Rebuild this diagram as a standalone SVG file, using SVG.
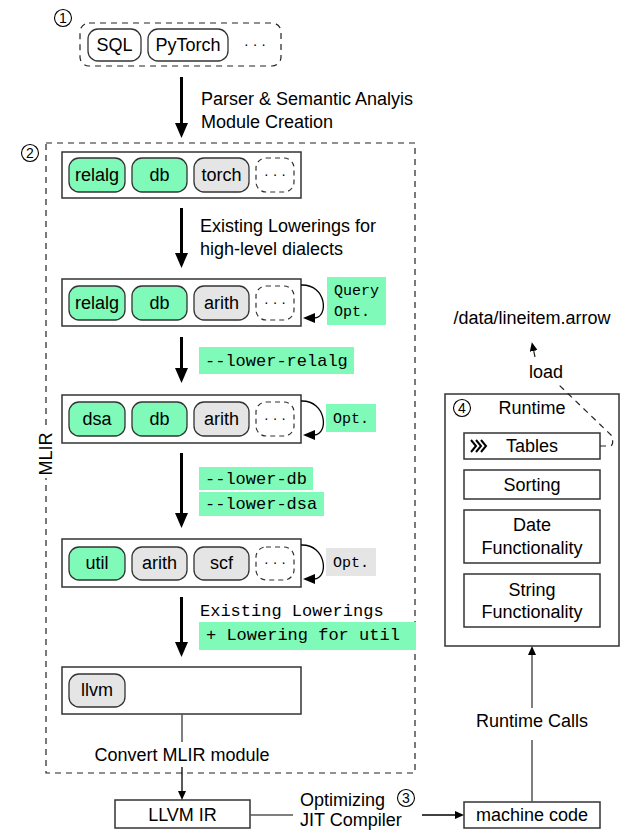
<svg xmlns="http://www.w3.org/2000/svg" width="626" height="831" viewBox="0 0 626 831">
<style>
text{font-family:"Liberation Sans","DejaVu Sans",sans-serif;font-size:18px;fill:#000}
.mono{font-family:"Liberation Mono","DejaVu Sans Mono",monospace;font-size:17px}
.mono15{font-family:"Liberation Mono","DejaVu Sans Mono",monospace;font-size:15px}
.mid{text-anchor:middle}
.box{fill:#fff;stroke:#333;stroke-width:1.5}
.pill{stroke:#333;stroke-width:1.3}
.g{fill:#7ffab8}
.gr{fill:#e5e5e5}
.w{fill:#fff}
.dpill{fill:#fff;stroke:#333;stroke-width:1.2;stroke-dasharray:5 4}
.thick{stroke:#000;stroke-width:3;fill:none}
.thin{stroke:#555;stroke-width:1.5;fill:none}
.thinb{stroke:#000;stroke-width:1.3;fill:none}
.circ{fill:#fff;stroke:#000;stroke-width:1.1}
.cnum{font-size:14px;text-anchor:middle}
.dots{font-size:14px;text-anchor:middle}
.dash{fill:none;stroke:#222;stroke-width:1.2;stroke-dasharray:6 5}
</style>
<defs>
<marker id="big" markerUnits="userSpaceOnUse" markerWidth="15" markerHeight="13" refX="1" refY="6.5" orient="auto">
<path d="M0,0 L15,6.5 L0,13 z" fill="#000"/>
</marker>
<marker id="small" markerUnits="userSpaceOnUse" markerWidth="9" markerHeight="8" refX="1" refY="4" orient="auto">
<path d="M0,0 L9,4 L0,8 z" fill="#000"/>
</marker>
<marker id="loop" markerUnits="userSpaceOnUse" markerWidth="12" markerHeight="10" refX="1" refY="5" orient="auto">
<path d="M0,0 L12,5 L0,10 z" fill="#000"/>
</marker>
</defs>

<!-- MLIR dashed container -->
<g id="mlir">
<rect x="46" y="143" width="369" height="630" class="dash"/>
<rect x="37" y="430" width="18" height="48" fill="#fff"/>
<text transform="translate(52,454) rotate(-90)" class="mid">MLIR</text>
<circle cx="30" cy="153" r="8.5" class="circ"/>
<text x="30" y="158" class="cnum">2</text>
</g>

<g id="input">
<circle cx="63" cy="18" r="8.5" class="circ"/>
<text x="63" y="23" class="cnum">1</text>
<rect x="80" y="23" width="201" height="43" rx="9" class="dash"/>
<rect x="88" y="29" width="53" height="32" rx="10" class="pill w"/>
<text x="114.5" y="51" class="mid">SQL</text>
<rect x="148" y="29" width="80" height="32" rx="10" class="pill w"/>
<text x="188" y="51" class="mid">PyTorch</text>
<text x="255" y="49" class="dots">· · ·</text>
</g>

<g id="module1">
<rect x="62" y="152" width="239" height="46" class="box"/>
<rect x="69" y="158" width="56" height="34" rx="10" class="pill g"/>
<text x="97" y="181" class="mid">relalg</text>
<rect x="132" y="158" width="55" height="34" rx="10" class="pill g"/>
<text x="159.5" y="181" class="mid">db</text>
<rect x="194" y="158" width="55" height="34" rx="10" class="pill gr"/>
<text x="221.5" y="181" class="mid">torch</text>
<rect x="256" y="158" width="38" height="34" rx="10" class="dpill"/>
<text x="275" y="179" class="dots">· · ·</text>
</g>

<g id="module2">
<rect x="62" y="279" width="239" height="47" class="box"/>
<rect x="69" y="286" width="56" height="34" rx="10" class="pill g"/>
<text x="97" y="309" class="mid">relalg</text>
<rect x="132" y="286" width="55" height="34" rx="10" class="pill g"/>
<text x="159.5" y="309" class="mid">db</text>
<rect x="194" y="286" width="55" height="34" rx="10" class="pill gr"/>
<text x="221.5" y="309" class="mid">arith</text>
<rect x="256" y="286" width="38" height="34" rx="10" class="dpill"/>
<text x="275" y="307" class="dots">· · ·</text>
</g>

<g id="queryopt">
<rect x="327" y="277" width="59" height="48" class="g"/>
<text x="334" y="295" class="mono15">Query</text>
<text x="334" y="316" class="mono15">Opt.</text>
</g>

<g id="module3">
<rect x="62" y="395" width="239" height="48" class="box"/>
<rect x="69" y="402" width="56" height="34" rx="10" class="pill g"/>
<text x="97" y="425" class="mid">dsa</text>
<rect x="132" y="402" width="55" height="34" rx="10" class="pill g"/>
<text x="159.5" y="425" class="mid">db</text>
<rect x="194" y="402" width="55" height="34" rx="10" class="pill gr"/>
<text x="221.5" y="425" class="mid">arith</text>
<rect x="256" y="402" width="38" height="34" rx="10" class="dpill"/>
<text x="275" y="423" class="dots">· · ·</text>
</g>

<g id="opt3">
<rect x="326" y="404" width="50" height="28" class="g"/>
<text x="333" y="423" class="mono15">Opt.</text>
</g>

<g id="module4">
<rect x="62" y="539" width="239" height="48" class="box"/>
<rect x="69" y="547" width="56" height="33" rx="10" class="pill g"/>
<text x="97" y="569" class="mid">util</text>
<rect x="132" y="547" width="55" height="33" rx="10" class="pill gr"/>
<text x="159.5" y="569" class="mid">arith</text>
<rect x="194" y="547" width="55" height="33" rx="10" class="pill gr"/>
<text x="221.5" y="569" class="mid">scf</text>
<rect x="256" y="547" width="38" height="33" rx="10" class="dpill"/>
<text x="275" y="567" class="dots">· · ·</text>
</g>

<g id="opt4">
<rect x="326" y="548" width="50" height="28" class="gr"/>
<text x="333" y="567" class="mono15">Opt.</text>
</g>

<g id="module5">
<rect x="62" y="667" width="239" height="47" class="box"/>
<rect x="69" y="674" width="56" height="33" rx="10" class="pill gr"/>
<text x="97" y="696" class="mid">llvm</text>
</g>

<g id="llvmir">
<rect x="115" y="800" width="135" height="28" class="box"/>
<text x="182.5" y="821" class="mid">LLVM IR</text>
</g>

<g id="machinecode">
<rect x="464" y="802" width="136" height="26" class="box"/>
<text x="532" y="821" class="mid">machine code</text>
</g>

<g id="runtime">
<rect x="445" y="394" width="174" height="252" class="box"/>
<circle cx="462" cy="408" r="8.5" class="circ"/>
<text x="462" y="413" class="cnum">4</text>
<text x="532" y="414" class="mid">Runtime</text>
<g id="tables">
<rect x="464" y="433" width="136" height="26" class="box"/>
<path d="M471,440 L476,446 L471,452 M476,440 L481,446 L476,452 M481,440 L486,446 L481,452" fill="none" stroke="#000" stroke-width="2"/>
<text x="532" y="452" class="mid">Tables</text>
</g>
<g id="sorting">
<rect x="464" y="470" width="136" height="29" class="box"/>
<text x="532" y="491" class="mid">Sorting</text>
</g>
<g id="date">
<rect x="464" y="510" width="136" height="53" class="box"/>
<text x="532" y="531" class="mid">Date</text>
<text x="532" y="554" class="mid">Functionality</text>
</g>
<g id="string">
<rect x="464" y="574" width="136" height="53" class="box"/>
<text x="532" y="596" class="mid">String</text>
<text x="532" y="618" class="mid">Functionality</text>
</g>
</g>

<g id="file">
<text x="532" y="324" class="mid">/data/lineitem.arrow</text>
</g>

<g id="connectors">
<line x1="181.5" y1="77" x2="181.5" y2="124" class="thick" marker-end="url(#big)"/>
<text x="201" y="105">Parser &amp; Semantic Analyis</text>
<text x="201" y="128">Module Creation</text>

<line x1="181.5" y1="208" x2="181.5" y2="254" class="thick" marker-end="url(#big)"/>
<text x="200" y="232">Existing Lowerings for</text>
<text x="200" y="255">high-level dialects</text>

<path d="M301,285 C327,284 329,318 314,318" class="thinb" stroke-width="2" marker-end="url(#loop)"/>

<line x1="181.5" y1="337" x2="181.5" y2="369" class="thick" marker-end="url(#big)"/>
<rect x="199" y="347" width="155" height="27" class="g"/>
<text x="205" y="366" class="mono">--lower-relalg</text>

<path d="M301,401 C327,400 329,435 314,435" class="thinb" stroke-width="2" marker-end="url(#loop)"/>

<line x1="181.5" y1="453" x2="181.5" y2="514" class="thick" marker-end="url(#big)"/>
<rect x="199" y="467" width="114" height="23" class="g"/>
<text x="205" y="484" class="mono">--lower-db</text>
<rect x="199" y="492" width="125" height="24" class="g"/>
<text x="205" y="509" class="mono">--lower-dsa</text>

<path d="M301,545 C327,544 329,579 314,579" class="thinb" stroke-width="2" marker-end="url(#loop)"/>

<line x1="181.5" y1="597" x2="181.5" y2="643" class="thick" marker-end="url(#big)"/>
<text x="200" y="616" class="mono">Existing Lowerings</text>
<rect x="199" y="622" width="217" height="28" class="g"/>
<text x="206" y="640" class="mono">+ Lowering for util</text>

<line x1="182" y1="714" x2="182" y2="742" class="thin"/>
<text x="182" y="761" class="mid">Convert MLIR module</text>
<line x1="182" y1="767" x2="182" y2="792" class="thinb" marker-end="url(#small)"/>

<line x1="250" y1="815" x2="293" y2="815" class="thin"/>
<text x="300" y="806">Optimizing</text>
<circle cx="406" cy="798" r="8.5" class="circ"/>
<text x="406" y="803" class="cnum">3</text>
<text x="300" y="826">JIT Compiler</text>
<line x1="422" y1="815" x2="456" y2="815" class="thinb" marker-end="url(#small)"/>

<line x1="532" y1="802" x2="532" y2="740" class="thin"/>
<text x="532" y="727" class="mid">Runtime Calls</text>
<line x1="532" y1="708" x2="532" y2="654" class="thin" marker-end="url(#small)"/>

<path d="M600,446 L610,446 Q614,446 612,436 L558,384" class="dash" stroke-dasharray="5 5"/>
<text x="546" y="378" class="mid">load</text>
<path d="M535,357 L533.5,350" class="dash" stroke-dasharray="4 3" marker-end="url(#small)"/>
</g>
</svg>
